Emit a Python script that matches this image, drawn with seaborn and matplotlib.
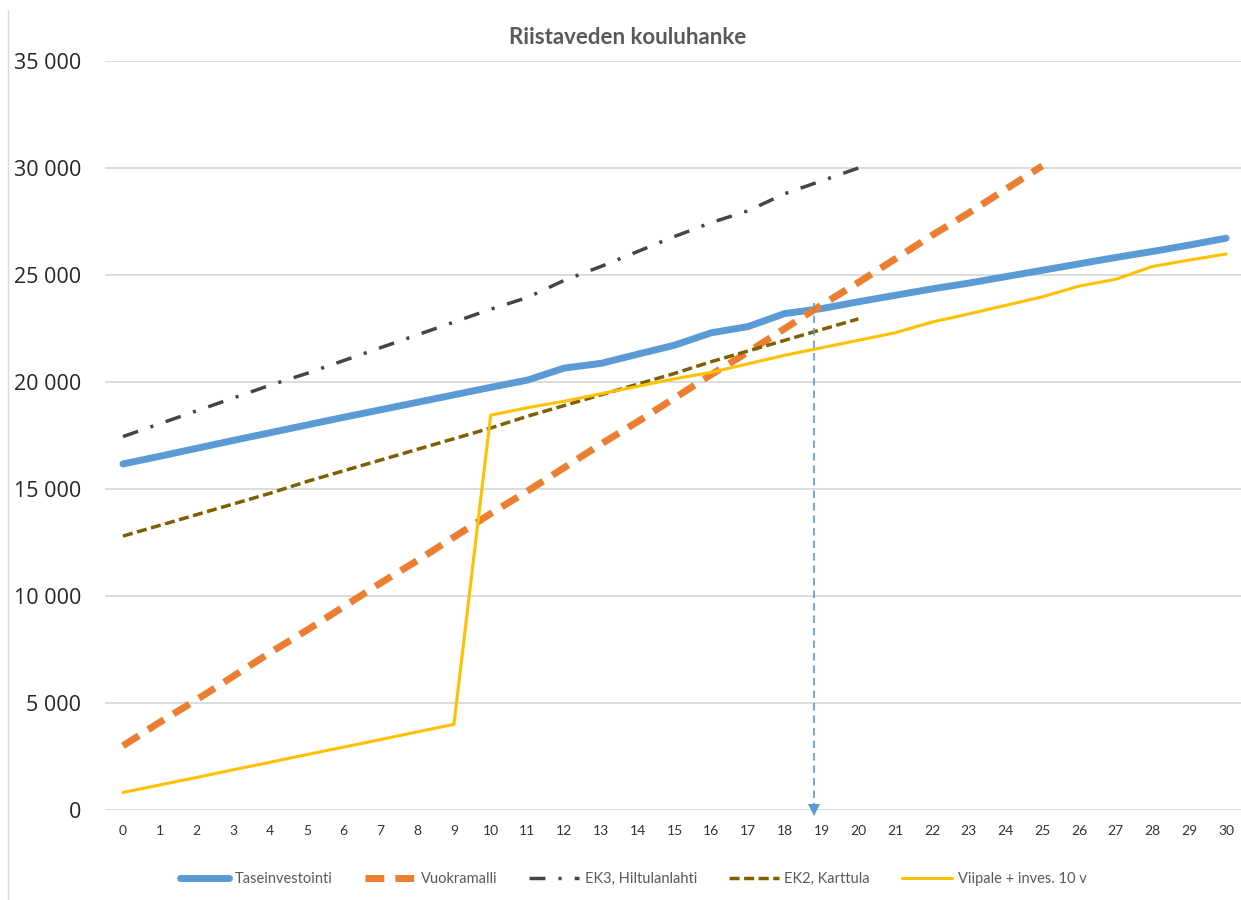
import numpy as np
import pandas as pd
import matplotlib
matplotlib.use("Agg")
import matplotlib.pyplot as plt
from matplotlib.ticker import FuncFormatter, FixedLocator
from matplotlib.lines import Line2D
import seaborn as sns

# ---- data -------------------------------------------------------------
years = list(range(31))

taseinvestointi = [16170, 16530, 16900, 17270, 17630, 17990, 18350, 18700, 19050, 19400,
                   19750, 20090, 20650, 20870, 21300, 21720, 22300, 22590, 23200, 23430,
                   23750, 24050, 24350, 24620, 24920, 25220, 25520, 25820, 26100, 26400,
                   26720]
vuokramalli = [3000, 4100, 5150, 6250, 7350, 8400, 9500, 10600, 11650, 12750,
               13850, 14900, 16000, 17100, 18150, 19250, 20350, 21400, 22500, 23600,
               24650, 25750, 26850, 27900, 29000, 30100]
ek3_hiltulanlahti = [17450, 18050, 18650, 19250, 19850, 20400, 21000, 21600, 22200, 22800,
                     23400, 23950, 24750, 25400, 26100, 26800, 27450, 28000, 28800, 29400,
                     30000]
ek2_karttula = [12800, 13300, 13800, 14300, 14800, 15350, 15850, 16350, 16850, 17350,
                17850, 18400, 18900, 19400, 19900, 20400, 20950, 21450, 21950, 22450,
                22950]
viipale_inves = [820, 1170, 1520, 1880, 2230, 2590, 2940, 3290, 3650, 4000,
                 18450, 18800, 19100, 19450, 19800, 20150, 20450, 20850, 21250, 21600,
                 21950, 22300, 22800, 23180, 23580, 23980, 24480, 24800, 25400, 25700,
                 25980]

series_names = ["Taseinvestointi", "Vuokramalli", "EK3, Hiltulanlahti",
                "EK2, Karttula", "Viipale + inves. 10 v"]
y_ticks = [0, 5000, 10000, 15000, 20000, 25000, 30000, 35000]
title_text = "Riistaveden kouluhanke"

# ---- styling ----------------------------------------------------------
sns.set_theme(style="white")
plt.rcParams["font.family"] = ["Lato", "DejaVu Sans"]

BLUE = "#5B9BD5"
ORANGE = "#ED7D31"
GRAY = "#454545"
OLIVE = "#7F6000"
GOLD = "#FFC000"
GRID = "#D9D9D9"

W, H = 1241, 900
fig = plt.figure(figsize=(W / 100, H / 100), dpi=100)
ax = fig.add_axes([104.6 / W, 90 / H, (W - 104.6) / W, 749 / H])

styles = [
    (taseinvestointi, BLUE, 5.0, "-"),
    (vuokramalli, ORANGE, 5.0, (0, (2.7, 1.6))),
    (ek3_hiltulanlahti, GRAY, 2.5, (0, (4.6, 3.75, 0.9, 3.75))),
    (ek2_karttula, OLIVE, 2.5, (0, (2.9, 1.3))),
    (viipale_inves, GOLD, 2.2, "-"),
]

for name, (vals, col, lw, ls) in zip(series_names, styles):
    df = pd.DataFrame({"vuosi": years[:len(vals)], "arvo": vals})
    sns.lineplot(data=df, x="vuosi", y="arvo", ax=ax, color=col, lw=lw,
                 linestyle=ls, label=name, solid_capstyle="round",
                 solid_joinstyle="round", dash_capstyle="butt")

# break-even point between owning and leasing, marked with a dashed arrow
n = len(vuokramalli)
diff = np.array(vuokramalli) - np.array(taseinvestointi[:n])
i = int(np.argmax(diff > 0))
t = -diff[i - 1] / (diff[i] - diff[i - 1])
x_cross = years[i - 1] + t
y_cross = taseinvestointi[i - 1] + t * (taseinvestointi[i] - taseinvestointi[i - 1])
ax.plot([x_cross, x_cross], [y_cross + 300, 250], color=BLUE, lw=1.2,
        linestyle=(0, (4.5, 3)), zorder=6)
ax.plot([x_cross], [0], marker="v", markersize=9, color=BLUE,
        markeredgewidth=0, zorder=6, clip_on=False)

# axes
ax.set_xlim(-0.5, (W - 123) / 36.77)
ax.set_ylim(0, 35000)
ax.yaxis.set_major_locator(FixedLocator(y_ticks))
ax.yaxis.set_major_formatter(FuncFormatter(lambda v, p: f"{v:,.0f}".replace(",", " ")))
ax.set_xticks(years)
ax.set_xticklabels([str(y) for y in years])
ax.grid(axis="y", color=GRID, lw=1.3)
ax.grid(axis="x", visible=False)
ax.set_axisbelow(True)
for s in ax.spines.values():
    s.set_visible(False)
ax.tick_params(axis="both", length=0)
ax.tick_params(axis="y", pad=17, labelsize=15.5, labelcolor="#262626")
ax.tick_params(axis="x", pad=11, labelsize=10, labelcolor="#333333")
for lab in ax.get_yticklabels():
    lab.set_family(["Open Sans", "DejaVu Sans"])
ax.set_xlabel("")
ax.set_ylabel("")

# title
fig.text(628 / W, 1 - 38 / H, title_text, ha="center", va="center",
         fontsize=16, fontweight="bold", color="#595959")

# legend below the plot
handles, labels = ax.get_legend_handles_labels()
ax.get_legend().remove()
fig.legend(handles, labels, loc="center", bbox_to_anchor=(633 / W, 1 - 879 / H),
           ncol=5, frameon=False, fontsize=10.5, labelcolor="#595959",
           handlelength=3.4, handletextpad=0.4, columnspacing=2.2)

# faint left border of the chart area
fig.add_artist(Line2D([8 / W, 8 / W], [0, 1 - 10 / H], color=GRID, lw=1.0))

fig.savefig("out.png", dpi=100, facecolor="white")
